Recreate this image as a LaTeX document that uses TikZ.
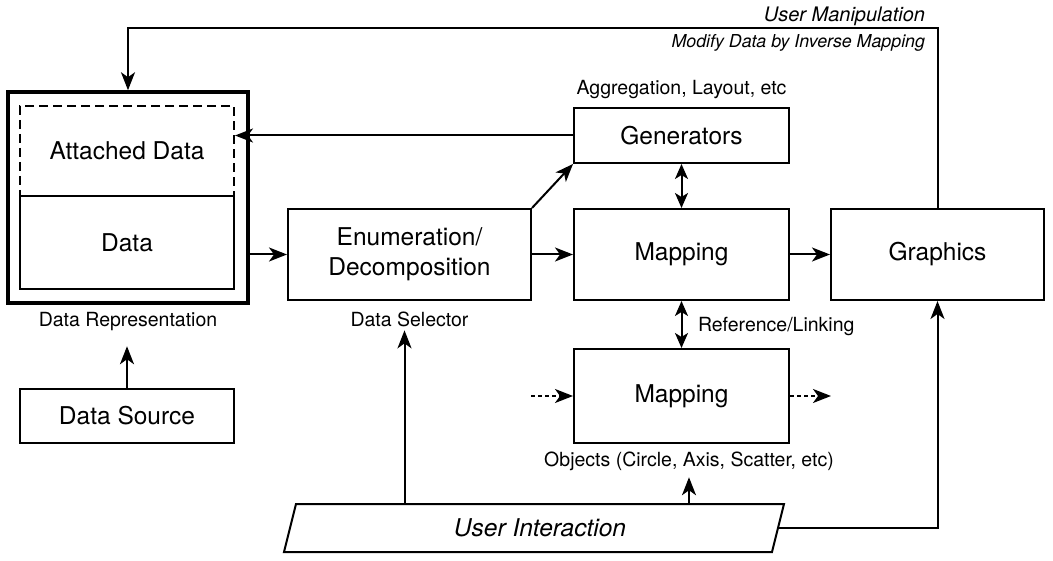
\documentclass[tikz,border=0pt]{standalone}
\usepackage{fontspec}
\setmainfont{TeX Gyre Heros}
\usetikzlibrary{arrows.meta,calc}
\newcommand\myMain{\fontsize{24.5}{30}\selectfont}
\newcommand\mySmall{\fontsize{19.5}{23}\selectfont}
\newcommand\myMid{\fontsize{20}{24}\selectfont}
\newcommand\myTiny{\fontsize{17.8}{21}\selectfont}
\begin{document}
\begin{tikzpicture}[x=1pt,y=-1pt,
  line width=2pt,
  arr/.style={-{Stealth[length=18pt,width=14pt,inset=5pt]}},
  darr/.style={{Stealth[length=15pt,width=13pt,inset=4pt]}-{Stealth[length=15pt,width=13pt,inset=4pt]}},
  box/.style={draw, minimum width=215pt, minimum height=91pt, inner sep=0pt, font=\myMain, align=center},
  lab/.style={font=\mySmall, inner sep=0pt, anchor=base},
  dsh/.style={dash pattern=on 4pt off 3pt},
]
\useasboundingbox (0,0) rectangle (1053,561);

% Data representation
\node[draw, line width=3.5pt, minimum width=240pt, minimum height=211pt, inner sep=0pt] (rep) at (128,197.5) {};
\node[draw, dash pattern=on 9pt off 5pt, minimum width=214pt, minimum height=90pt, inner sep=0pt, font=\myMain] (att) at (127,151) {Attached Data};
\node[box, minimum width=214pt, minimum height=93pt] (data) at (127,242.5) {Data};
\node[lab] (replab) at (128,327) {Data Representation};
\node[box, minimum width=214pt, minimum height=54pt] (src) at (127,416) {Data Source};

% Selector
\node[box, minimum width=243pt] (enum) at (409.5,254.5) {Enumeration/\\Decomposition};
\node[lab] (sel) at (409.5,327) {Data Selector};

% Generators and mappings
\node[box, minimum height=55pt] (gen) at (681.5,135.5) {Generators};
\node[lab] (agg) at (681.5,95) {Aggregation, Layout, etc};
\node[box] (map1) at (681.5,254.5) {Mapping};
\node[box, minimum width=213pt] (gra) at (937.5,254.5) {Graphics};
\node[box, minimum height=94pt] (map2) at (681.5,396) {Mapping};
\node[lab, anchor=base west] (ref) at (697,332) {Reference/Linking};
\node[lab] (obj) at (689,467) {Objects (Circle, Axis, Scatter, etc)};

% User interaction
\node[font=\myMain\itshape, minimum width=474pt, minimum height=46pt, inner sep=0pt] (ui) at (540,528) {User Interaction};
\draw ($(ui.north west)+(-6,0)$) -- ($(ui.north east)+(6,0)$) -- ($(ui.south east)+(-6,0)$) -- ($(ui.south west)+(-18,0)$) -- cycle;

% Top labels
\node[font=\myMid\itshape, anchor=base east, inner sep=0pt] (um) at (926,22) {User Manipulation};
\node[font=\myTiny\itshape, anchor=base east, inner sep=0pt] (md) at (926,48) {Modify Data by Inverse Mapping};

% Connectors
\draw[arr] (rep.east |- enum.west) -- (enum.west);
\draw[arr] (enum) -- (map1);
\draw[arr] (map1) -- (gra);
\draw[arr] (enum.north east) -- (gen.south west);
\draw[arr] (gen.west) -- (att.east |- gen.west);
\draw[darr] (gen) -- (map1);
\draw[darr] (map1) -- (map2);
\coordinate (reparr) at ($(replab.south)+(0,14)$);
\draw[arr] (src.north) -- (src.north |- reparr);

\coordinate (selarr) at ($(sel.south)+(-5,2)$);
\draw[arr] (ui.north -| selarr) -- (selarr);
\coordinate (objarr) at ($(obj.south)+(0,5)$);
\draw[arr] (ui.north -| objarr) -- (objarr);

\draw[arr] (ui.east) -| (gra.south);
\draw[arr] (gra.north) -- ++(0,-180) -| (rep.north);

\coordinate (din) at (531,396);
\coordinate (dout) at (831,396);
\draw[arr, dsh] (din) -- (map2.west |- din);
\draw[arr, dsh] (map2.east |- dout) -- (dout);
\end{tikzpicture}
\end{document}
